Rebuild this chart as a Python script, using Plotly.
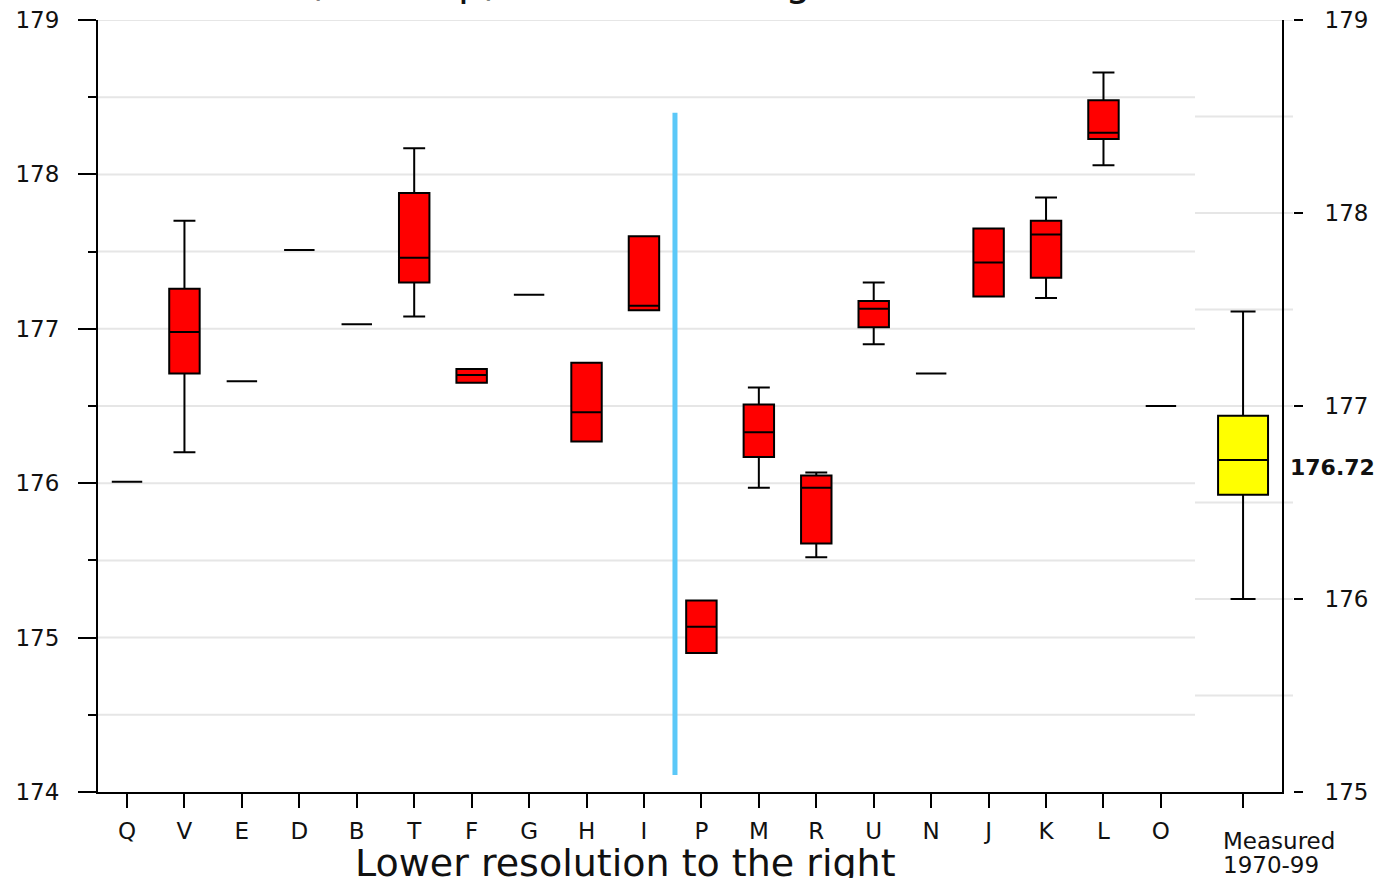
import plotly.graph_objects as go

# ---------------- data ----------------
categories = ["Q", "V", "E", "D", "B", "T", "F", "G", "H", "I",
              "P", "M", "R", "U", "N", "J", "K", "L", "O"]
lower_fence = [176.01, 176.20, 176.66, 177.51, 177.03, 177.08, 176.65, 177.22, 176.27, 177.12,
               174.90, 175.97, 175.52, 176.90, 176.71, 177.21, 177.20, 178.06, 176.50]
q1_values = [176.01, 176.71, 176.66, 177.51, 177.03, 177.30, 176.65, 177.22, 176.27, 177.12,
             174.90, 176.17, 175.61, 177.01, 176.71, 177.21, 177.33, 178.23, 176.50]
median_values = [176.01, 176.98, 176.66, 177.51, 177.03, 177.46, 176.70, 177.22, 176.46, 177.15,
                 175.07, 176.33, 175.97, 177.13, 176.71, 177.43, 177.61, 178.27, 176.50]
q3_values = [176.01, 177.26, 176.66, 177.51, 177.03, 177.88, 176.74, 177.22, 176.78, 177.60,
             175.24, 176.51, 176.05, 177.18, 176.71, 177.65, 177.70, 178.48, 176.50]
upper_fence = [176.01, 177.70, 176.66, 177.51, 177.03, 178.17, 176.74, 177.22, 176.78, 177.60,
               175.24, 176.62, 176.07, 177.30, 176.71, 177.65, 177.85, 178.66, 176.50]

measured_label = ["Measured", "1970-99"]
measured_stats = {"lower": 176.00, "q1": 176.54, "median": 176.72, "q3": 176.95, "upper": 177.49}

left_range = [174, 179]
right_range = [175, 179]
title_text = "Lake levels (from ftp) - 1xC2 - Michigan/Huron - 2050"
xaxis_title = "Lower resolution to the right"

# ---------------- layout helpers ----------------
W, H = 1386, 878
ML, MR, MT, MB = 98, 80, 20, 86
plot_w = W - ML - MR
x_dom_end = (1282 - ML) / plot_w
y2_pos = (1293 - ML) / plot_w
grid_split = (1195 - ML) / plot_w

positions = list(range(len(categories)))
measured_pos = 19.43
x_range = [-0.505, 20.108]
divider_x = 9.54
divider_y = [174.11, 178.40]

FONT = "DejaVu Sans, Arial, sans-serif"
TXT = "#111111"

fig = go.Figure()

fig.add_trace(go.Box(
    x=positions, q1=q1_values, median=median_values, q3=q3_values,
    lowerfence=lower_fence, upperfence=upper_fence,
    width=0.53, whiskerwidth=0.72, boxpoints=False,
    fillcolor="#ff0000", line=dict(color="#000000", width=2),
    hoverinfo="skip", showlegend=False, yaxis="y",
))

fig.add_trace(go.Box(
    x=[measured_pos], q1=[measured_stats["q1"]], median=[measured_stats["median"]],
    q3=[measured_stats["q3"]], lowerfence=[measured_stats["lower"]],
    upperfence=[measured_stats["upper"]],
    width=0.87, whiskerwidth=0.5, boxpoints=False,
    fillcolor="#ffff00", line=dict(color="#000000", width=2),
    hoverinfo="skip", showlegend=False, yaxis="y2",
))

shapes = []
# left-axis grid lines (every 0.5)
v = left_range[0] + 0.5
while v <= left_range[1] + 1e-9:
    shapes.append(dict(type="line", xref="paper", yref="y", x0=0, x1=grid_split, y0=v, y1=v,
                       line=dict(color="#e6e6e6", width=2), layer="below"))
    v += 0.5
# right-axis grid lines (every 0.5)
v = right_range[0] + 0.5
while v <= right_range[1] + 1e-9:
    shapes.append(dict(type="line", xref="paper", yref="y2", x0=grid_split, x1=y2_pos, y0=v, y1=v,
                       line=dict(color="#e6e6e6", width=2), layer="below"))
    v += 0.5
# divider
shapes.append(dict(type="line", xref="x", yref="y", x0=divider_x, x1=divider_x,
                   y0=divider_y[0], y1=divider_y[1],
                   line=dict(color="#5BC8F8", width=5)))

annotations = [
    dict(text=title_text, xref="paper", yref="paper", x=(605 - ML) / plot_w, y=1,
         xanchor="center", yanchor="bottom", yshift=14, showarrow=False,
         font=dict(family=FONT, size=40, color=TXT)),
    dict(text=xaxis_title, xref="paper", yref="paper", x=(625 - ML) / plot_w, y=0,
         xanchor="center", yanchor="middle", yshift=-71, showarrow=False,
         font=dict(family=FONT, size=38, color=TXT)),
    dict(text=measured_label[0], xref="x", yref="paper", x=measured_pos, y=0,
         xanchor="left", yanchor="middle", xshift=-22, yshift=-49, showarrow=False,
         font=dict(family=FONT, size=23, color=TXT)),
    dict(text=measured_label[1], xref="x", yref="paper", x=measured_pos, y=0,
         xanchor="left", yanchor="middle", xshift=-22, yshift=-73, showarrow=False,
         font=dict(family=FONT, size=23, color=TXT)),
    dict(text="<b>%.2f</b>" % measured_stats["median"], xref="paper", yref="y2",
         x=(1288 - ML) / plot_w, y=measured_stats["median"], xanchor="left", yanchor="middle",
         yshift=-7, showarrow=False, font=dict(family=FONT, size=22, color=TXT)),
]

fig.update_layout(
    width=W, height=H,
    margin=dict(l=ML, r=MR, t=MT, b=MB, pad=0, autoexpand=False),
    paper_bgcolor="white", plot_bgcolor="white",
    boxmode="overlay",
    shapes=shapes, annotations=annotations,
    xaxis=dict(
        domain=[0, x_dom_end], range=x_range, tickmode="array",
        tickvals=positions + [measured_pos], ticktext=categories + [""],
        ticks="outside", ticklen=14, tickwidth=2, tickcolor="#000",
        showline=True, linecolor="#000", linewidth=2, showgrid=False, zeroline=False,
        tickfont=dict(family=FONT, size=23, color=TXT), ticklabelstandoff=3,
        automargin=False,
    ),
    yaxis=dict(
        range=left_range, tickvals=[174, 175, 176, 177, 178, 179],
        ticks="outside", ticklen=18, tickwidth=2, tickcolor="#000",
        minor=dict(ticks="outside", ticklen=8, dtick=0.5, tickcolor="#000", tickwidth=1.5, showgrid=False),
        showline=True, mirror=True, linecolor="#000", linewidth=2,
        showgrid=False, zeroline=False, ticklabelstandoff=14,
        tickfont=dict(family=FONT, size=23, color=TXT), automargin=False,
    ),
    yaxis2=dict(
        range=right_range, tickvals=[175, 176, 177, 178, 179], overlaying="y",
        side="right", anchor="free", position=y2_pos,
        ticks="outside", ticklen=9, tickwidth=2, tickcolor="#000",
        showline=False, showgrid=False, zeroline=False, ticklabelstandoff=17,
        tickfont=dict(family=FONT, size=23, color=TXT), automargin=False,
    ),
)

fig.write_html("out.html")
